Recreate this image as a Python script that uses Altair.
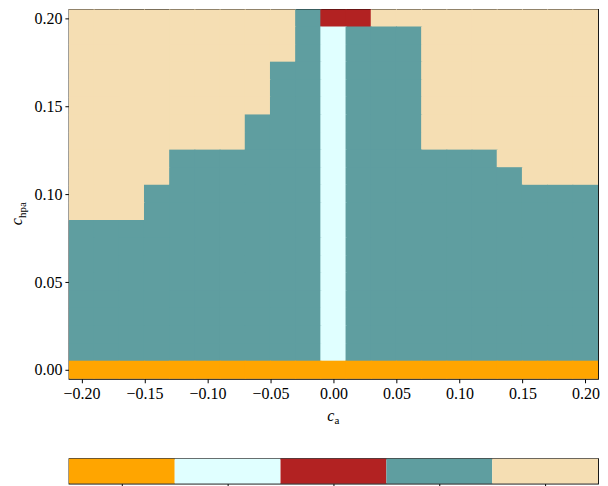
import altair as alt
import pandas as pd

# ---- data ----
x_values = [-0.20, -0.18, -0.16, -0.14, -0.12, -0.10, -0.08, -0.06, -0.04, -0.02,
            0.00, 0.02, 0.04, 0.06, 0.08, 0.10, 0.12, 0.14, 0.16, 0.18, 0.20]
y_values = [0.00, 0.01, 0.02, 0.03, 0.04, 0.05, 0.06, 0.07, 0.08, 0.09, 0.10,
            0.11, 0.12, 0.13, 0.14, 0.15, 0.16, 0.17, 0.18, 0.19, 0.20]
# category codes per cell, rows from top (y=0.20) to bottom (y=0.00)
grid_rows = [
    "444444444322444444444",
    "444444444313334444444",
    "444444444313334444444",
    "444444443313334444444",
    "444444443313334444444",
    "444444443313334444444",
    "444444433313334444444",
    "444444433313334444444",
    "444433333313333334444",
    "444433333313333333444",
    "444333333313333333333",
    "444333333313333333333",
    "333333333313333333333",
    "333333333313333333333",
    "333333333313333333333",
    "333333333313333333333",
    "333333333313333333333",
    "333333333313333333333",
    "333333333313333333333",
    "333333333313333333333",
    "000000000000000000000",
]
categories = ["0", "1", "2", "3", "4"]
colors = ["#FFA500", "#E0FFFF", "#B22222", "#5F9EA0", "#F5DEB3"]
x_ticks = [-0.20, -0.15, -0.10, -0.05, 0.00, 0.05, 0.10, 0.15, 0.20]
y_ticks = [0.00, 0.05, 0.10, 0.15, 0.20]

W, H = 530, 370
FONT = "Liberation Serif"
X_DOM = [-0.21, 0.21]
Y_DOM = [-0.005, 0.205]

# half cell sizes plus a tiny overlap (~0.5 px) to hide anti-aliasing seams
hx = 0.01 + 0.5 * (X_DOM[1] - X_DOM[0]) / W
hy = 0.005 + 0.5 * (Y_DOM[1] - Y_DOM[0]) / H

records = []
n = len(grid_rows)
for i, row in enumerate(grid_rows):
    y = y_values[n - 1 - i]
    for j, ch in enumerate(row):
        x = x_values[j]
        records.append({"x0": max(x - hx, X_DOM[0]), "x1": min(x + hx, X_DOM[1]),
                        "y0": max(y - hy, Y_DOM[0]), "y1": min(y + hy, Y_DOM[1]),
                        "cat": ch})
df = pd.DataFrame(records)

cscale = alt.Scale(domain=categories, range=colors)

axis_common = dict(format=".2f", title=None, grid=False, domain=False,
                   tickSize=4, tickColor="black", labelFont=FONT,
                   labelFontSize=16, labelColor="black", labelPadding=3)

heat = alt.Chart(df).mark_rect(opacity=1, strokeWidth=0).encode(
    x=alt.X("x0:Q", scale=alt.Scale(domain=X_DOM, nice=False, zero=False),
            axis=alt.Axis(values=x_ticks, **axis_common)),
    x2="x1:Q",
    y=alt.Y("y0:Q", scale=alt.Scale(domain=Y_DOM, nice=False, zero=False),
            axis=alt.Axis(values=y_ticks, **axis_common)),
    y2="y1:Q",
    color=alt.Color("cat:N", scale=cscale, legend=None),
)

xt_c = alt.Chart(pd.DataFrame({"t": ["c"]})).mark_text(
    font=FONT, fontStyle="italic", fontSize=16, align="right", baseline="alphabetic",
    color="black").encode(x=alt.value(W / 2 + 1), y=alt.value(H + 42), text="t:N")
xt_a = alt.Chart(pd.DataFrame({"t": ["a"]})).mark_text(
    font=FONT, fontSize=11, align="left", baseline="alphabetic",
    color="black").encode(x=alt.value(W / 2 + 1), y=alt.value(H + 45), text="t:N")
yt_c = alt.Chart(pd.DataFrame({"t": ["c"]})).mark_text(
    font=FONT, fontStyle="italic", fontSize=16, align="right", baseline="alphabetic",
    angle=270, color="black").encode(x=alt.value(-47), y=alt.value(H / 2 + 24), text="t:N")
yt_h = alt.Chart(pd.DataFrame({"t": ["hpa"]})).mark_text(
    font=FONT, fontSize=11, align="left", baseline="alphabetic",
    angle=270, color="black").encode(x=alt.value(-43), y=alt.value(H / 2 + 24), text="t:N")

top = alt.layer(heat, xt_c, xt_a, yt_c, yt_h).properties(width=W, height=H)

cbar = alt.Chart(pd.DataFrame({"cat": categories})).mark_rect(opacity=1).encode(
    x=alt.X("cat:O", sort=categories,
            scale=alt.Scale(paddingInner=0, paddingOuter=0),
            axis=alt.Axis(labels=False, ticks=True, tickSize=4, tickColor="black",
                          domain=False, title=None)),
    color=alt.Color("cat:N", scale=cscale, legend=None),
).properties(width=W, height=25)

chart = alt.vconcat(top, cbar, spacing=80, bounds="flush").properties(
    padding={"left": 0, "top": 0, "right": 0, "bottom": 0}
).configure_view(stroke="black", strokeWidth=1.2)

chart.save("out.html", embed_options={"renderer": "svg", "actions": False})
